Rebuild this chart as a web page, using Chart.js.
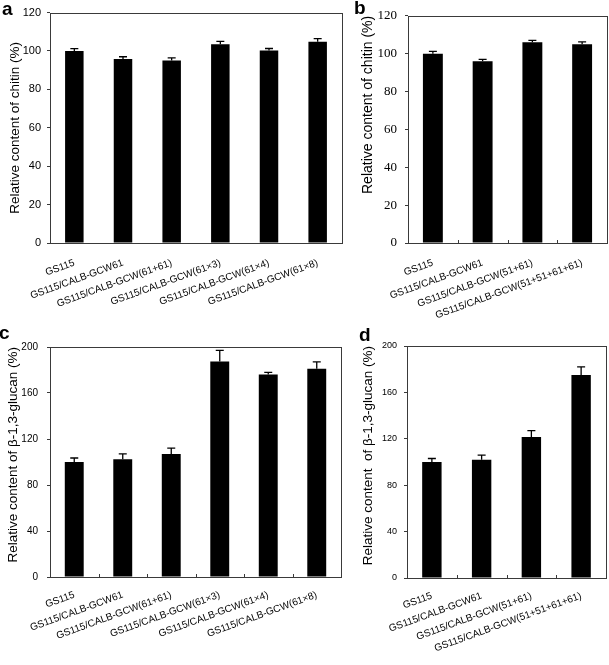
<!DOCTYPE html>
<html>
<head>
<meta charset="utf-8">
<script src="https://cdn.jsdelivr.net/npm/chart.js@4/dist/chart.umd.min.js"></script>
<style>
  html, body { margin: 0; padding: 0; background: #fff; }
  #page { position: relative; width: 609px; height: 665px; overflow: hidden; }
  canvas { position: absolute; }
  .tag { position: absolute; font: bold 19px "Liberation Sans", Arial, sans-serif; color: #000; line-height: 1; }
</style>
</head>
<body>
<div id="page">
  <canvas id="chartA" width="350" height="330" style="left:0;top:0"></canvas>
  <canvas id="chartB" width="259" height="330" style="left:350px;top:0"></canvas>
  <canvas id="chartC" width="350" height="335" style="left:0;top:330px"></canvas>
  <canvas id="chartD" width="259" height="335" style="left:350px;top:330px"></canvas>
  <div class="tag" style="left:2px;top:-1px">a</div>
  <div class="tag" style="left:354px;top:-2px">b</div>
  <div class="tag" style="left:-1px;top:323px">c</div>
  <div class="tag" style="left:359px;top:325px">d</div>
</div>
<script>
// strains (x categories)
var strainsSix = ['GS115', 'GS115/CALB-GCW61', 'GS115/CALB-GCW(61+61)', 'GS115/CALB-GCW(61×3)', 'GS115/CALB-GCW(61×4)', 'GS115/CALB-GCW(61×8)'];
var strainsFour = ['GS115', 'GS115/CALB-GCW61', 'GS115/CALB-GCW(51+61)', 'GS115/CALB-GCW(51+51+61+61)'];

// relative contents (%) and SD
var chitinA = [100, 95.8, 95, 103.5, 100.3, 104.8];
var chitinAErr = [1.2, 1.2, 1.4, 1.5, 1.0, 1.6];
var chitinB = [100, 96, 106, 105];
var chitinBErr = [1.2, 1.0, 1.0, 1.2];
var glucanC = [100, 102.5, 107, 187.5, 176, 181];
var glucanCErr = [3.5, 4.5, 5, 9.5, 2, 6];
var glucanD = [100, 102, 121.5, 175];
var glucanDErr = [3, 4, 5.5, 7];

// y axis ticks
var chitinTicks = [0, 20, 40, 60, 80, 100, 120];
var glucanTicks = [0, 40, 80, 120, 160, 200];

var SANS = '"Liberation Sans", Arial, sans-serif';
var SERIF = '"Liberation Serif", "Times New Roman", serif';

// error bars (upper half only), frame and inner category ticks
var panelDecor = {
    id: 'panelDecor',
    afterDatasetsDraw: function (chart, args, opts) {
        var ctx = chart.ctx;
        var yScale = chart.scales.y;
        var xScale = chart.scales.x;
        var meta = chart.getDatasetMeta(0);
        var errs = opts.errors || [];
        ctx.save();
        ctx.strokeStyle = '#000';
        ctx.lineWidth = 1.3;
        meta.data.forEach(function (bar, i) {
            var v = chart.data.datasets[0].data[i];
            var y0 = yScale.getPixelForValue(v);
            var y1 = yScale.getPixelForValue(v + errs[i]);
            ctx.beginPath();
            ctx.moveTo(bar.x, y0);
            ctx.lineTo(bar.x, y1);
            ctx.moveTo(bar.x - 4, y1);
            ctx.lineTo(bar.x + 4, y1);
            ctx.stroke();
        });
        var a = chart.chartArea;
        ctx.strokeStyle = '#3a3a3a';
        ctx.lineWidth = 1;
        ctx.strokeRect(Math.round(a.left) + 0.5, Math.round(a.top) + 0.5,
            Math.round(a.right - a.left), Math.round(a.bottom - a.top));
        if (opts.innerTicks) {
            ctx.beginPath();
            for (var k = 1; k < chart.data.labels.length; k++) {
                var xb = Math.round((xScale.getPixelForValue(k - 1) + xScale.getPixelForValue(k)) / 2) + 0.5;
                ctx.moveTo(xb, a.bottom);
                ctx.lineTo(xb, a.bottom - 3);
            }
            ctx.stroke();
        }
        ctx.restore();
    }
};

function makePanel(id, labels, values, errs, p) {
    var ticks = p.ticks;
    return new Chart(document.getElementById(id), {
        type: 'bar',
        data: {
            labels: labels,
            datasets: [{
                data: values,
                backgroundColor: '#000',
                borderWidth: 0,
                barPercentage: p.barPct,
                categoryPercentage: 1
            }]
        },
        options: {
            responsive: false,
            animation: false,
            events: [],
            layout: { padding: { left: 0, right: p.padRight, top: p.padTop, bottom: 0 } },
            scales: {
                x: {
                    border: { display: false },
                    grid: { display: false, drawTicks: false },
                    ticks: {
                        autoSkip: false,
                        minRotation: 20,
                        maxRotation: 20,
                        padding: p.labelPad,
                        color: '#000',
                        font: { family: SANS, size: 10 }
                    },
                    afterFit: function (s) { s.height = p.xHeight; }
                },
                y: {
                    min: ticks[0],
                    max: ticks[ticks.length - 1],
                    border: { display: false },
                    grid: { drawOnChartArea: false, tickLength: 3, color: '#3a3a3a' },
                    ticks: {
                        stepSize: ticks[1] - ticks[0],
                        padding: p.tickPad,
                        color: '#000',
                        font: { family: p.tickFamily, size: p.tickSize }
                    },
                    title: {
                        display: true,
                        text: p.title,
                        align: p.titleAlign,
                        color: '#000',
                        font: { family: SANS, size: p.titleSize },
                        padding: { top: p.titlePad, bottom: 0 }
                    },
                    afterFit: function (s) { s.width = p.yWidth; }
                }
            },
            plugins: {
                legend: { display: false },
                tooltip: { enabled: false },
                panelDecor: { errors: errs, innerTicks: p.innerTicks }
            }
        },
        plugins: [panelDecor]
    });
}

makePanel('chartA', strainsSix, chitinA, chitinAErr, {
    ticks: chitinTicks, barPct: 0.38, padRight: 8, padTop: 11, xHeight: 87, yWidth: 50,
    tickPad: 6, tickFamily: SANS, tickSize: 11, labelPad: 14,
    title: 'Relative content of chitin (%)', titleAlign: 'center', titleSize: 13.5, titlePad: 7,
    innerTicks: false
});
makePanel('chartB', strainsFour, chitinB, chitinBErr, {
    ticks: chitinTicks, barPct: 0.4, padRight: 2, padTop: 13, xHeight: 87, yWidth: 58,
    tickPad: 8, tickFamily: SERIF, tickSize: 13, labelPad: 14,
    title: 'Relative content of chitin (%)', titleAlign: 'end', titleSize: 14, titlePad: 10,
    innerTicks: true
});
makePanel('chartC', strainsSix, glucanC, glucanCErr, {
    ticks: glucanTicks, barPct: 0.39, padRight: 9, padTop: 17, xHeight: 88, yWidth: 50,
    tickPad: 9, tickFamily: SANS, tickSize: 10, labelPad: 12,
    title: 'Relative content of β-1,3-glucan (%)', titleAlign: 'end', titleSize: 13.5, titlePad: 5,
    innerTicks: true
});
makePanel('chartD', strainsFour, glucanD, glucanDErr, {
    ticks: glucanTicks, barPct: 0.39, padRight: 3, padTop: 16, xHeight: 87, yWidth: 57,
    tickPad: 7, tickFamily: SANS, tickSize: 9, labelPad: 12,
    title: 'Relative content  of β-1,3-glucan (%)', titleAlign: 'end', titleSize: 13.5, titlePad: 10,
    innerTicks: true
});
</script>
</body>
</html>
